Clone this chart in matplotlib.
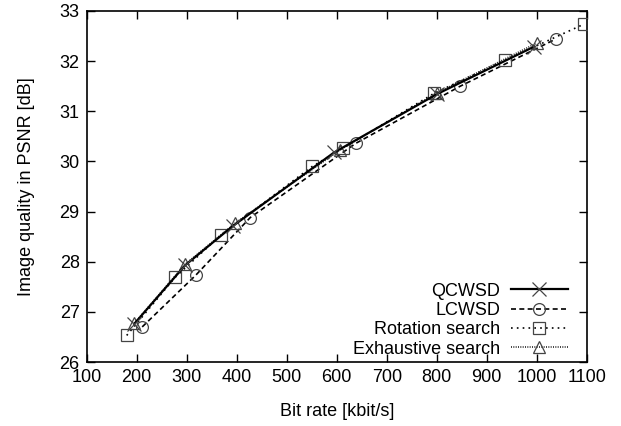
import matplotlib
matplotlib.use("Agg")
import matplotlib.pyplot as plt

plt.rcParams['font.family'] = ['Liberation Sans', 'DejaVu Sans']

qc_x = [195, 297, 392, 595, 800, 995]
qc_y = [26.76, 27.93, 28.71, 30.18, 31.34, 32.29]

lc_x = [211, 318, 427, 638, 847, 1038]
lc_y = [26.70, 27.73, 28.88, 30.36, 31.50, 32.44]

rs_x = [180, 277, 368, 551, 612, 795, 937, 1095]
rs_y = [26.53, 27.69, 28.53, 29.90, 30.26, 31.36, 32.02, 32.74]

es_x = [195, 297, 397, 607, 801, 1000]
es_y = [26.77, 27.95, 28.77, 30.23, 31.37, 32.36]

xticks = [100, 200, 300, 400, 500, 600, 700, 800, 900, 1000, 1100]
yticks = [26, 27, 28, 29, 30, 31, 32, 33]

fig = plt.figure(figsize=(6.21, 4.26), dpi=100)
ax = fig.add_axes([0.1396, 0.1502, 0.8052, 0.8240])

mc = '#444444'
ax.plot(qc_x, qc_y, color='black', lw=1.6, ls='-', marker='x', ms=10,
        mec=mc, mew=0.9, label='QCWSD', zorder=4)
ax.plot(lc_x, lc_y, color='black', lw=1.2, ls=(0, (3, 2)), marker='o', ms=8.5,
        mfc='none', mec=mc, mew=0.9, label='LCWSD', zorder=3)
ax.plot(rs_x, rs_y, color='black', lw=1.2, ls=(0, (1, 2.5)), marker='s', ms=8.5,
        mfc='none', mec=mc, mew=0.9, label='Rotation search', zorder=3)
ax.plot(es_x, es_y, color='#222222', lw=1.2, ls=(0, (0.6, 0.8)), marker='^', ms=8.5,
        mfc='none', mec=mc, mew=0.9, label='Exhaustive search', zorder=3)

ax.set_xlim(100, 1100)
ax.set_ylim(26, 33)
ax.set_xticks(xticks)
ax.set_yticks(yticks)
ax.tick_params(direction='in', length=6, width=1, top=True, right=True,
               labelsize=13, pad=5)
for s in ax.spines.values():
    s.set_linewidth(1.2)

ax.set_xlabel('Bit rate [kbit/s]', fontsize=13, labelpad=12)
ax.set_ylabel('Image quality in PSNR [dB]', fontsize=13, labelpad=18)

leg = ax.legend(loc='lower right', bbox_to_anchor=(0.962, 0.012),
                frameon=False, fontsize=13,
                markerfirst=False, handlelength=3.15, handletextpad=0.6,
                labelspacing=0.13, borderaxespad=0.0, borderpad=0.0)
leg._legend_box.align = "right"

fig.savefig('out.png', dpi=100)
